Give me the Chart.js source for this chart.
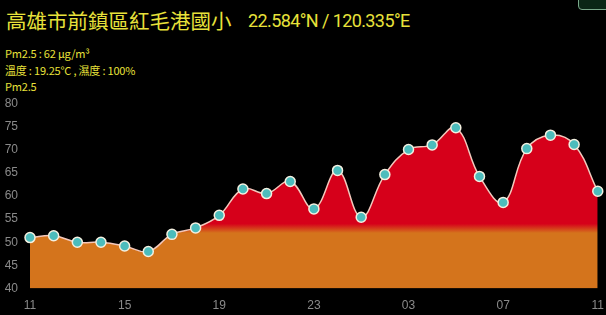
<!DOCTYPE html>
<html>
<head>
<meta charset="utf-8">
<script src="https://cdn.jsdelivr.net/npm/chart.js@4"></script>
<style>
  html, body { margin: 0; padding: 0; background: #000; }
  body { width: 606px; height: 315px; position: relative; overflow: hidden; font-family: "Noto Sans CJK TC", "Noto Sans", sans-serif; color: #e8e23a; }
  .name { position: absolute; left: 6px; top: 5px; font-size: 20.5px; white-space: nowrap; }
  .pos { position: absolute; left: 248px; top: 10px; font-size: 18px; letter-spacing: -0.6px; white-space: nowrap; font-family: Roboto, "Noto Sans", sans-serif; }
  .info { position: absolute; left: 5px; font-size: 11px; letter-spacing: -0.2px; white-space: nowrap; }
  #btn { position: absolute; left: 578px; top: -10px; width: 40px; height: 18px; border: 1px solid #7aa88a; border-radius: 4px; background: #0b2616; }
  #wrap { position: absolute; left: 0; top: 92px; width: 606px; height: 223px; }
</style>
</head>
<body>
<div class="name">高雄市前鎮區紅毛港國小</div>
<div class="pos">22.584°N / 120.335°E</div>
<div class="info" style="top:45px">Pm2.5 : 62 μg/m³</div>
<div class="info" style="top:62px">溫度 : 19.25°C , 濕度 : 100%</div>
<div class="info" style="top:78px">Pm2.5</div>
<div id="btn"></div>
<div id="wrap"><canvas id="pmChart" width="606" height="223"></canvas></div>
<script>
// hourly readings, 11:00 to 11:00 next day
const hours = ['11','12','13','14','15','16','17','18','19','20','21','22','23',
  '00','01','02','03','04','05','06','07','08','09','10','11'];
const pm25 = [51, 51.4, 50, 50, 49.2, 48, 51.7, 53.1, 55.8, 61.5, 60.5, 63.1, 57.2,
  65.5, 55.4, 64.6, 70, 71, 74.7, 64.2, 58.6, 70.2, 73.1, 71.1, 61];
const yTicks = [40, 45, 50, 55, 60, 65, 70, 75, 80];

// red above ~52, orange below
function areaFill(context) {
  const chart = context.chart;
  const { ctx, chartArea, scales } = chart;
  if (!chartArea) return '#d4741c';
  const y = scales.y;
  const top = y.getPixelForValue(80), bot = y.getPixelForValue(40);
  const g = ctx.createLinearGradient(0, top, 0, bot);
  const stop = v => (y.getPixelForValue(v) - top) / (bot - top);
  g.addColorStop(0, '#d6001a');
  g.addColorStop(stop(54), '#d6001a');
  g.addColorStop(stop(52), '#d4741c');
  g.addColorStop(1, '#d4741c');
  return g;
}

new Chart(document.getElementById('pmChart').getContext('2d'), {
  type: 'line',
  data: {
    labels: hours,
    datasets: [{
      label: 'Pm2.5',
      data: pm25,
      borderColor: '#f3c8bc',
      borderWidth: 1.5,
      backgroundColor: areaFill,
      fill: 'start',
      tension: 0.4,
      pointRadius: 5,
      pointBackgroundColor: '#4cbcbc',
      pointBorderColor: '#f4f0e0',
      pointBorderWidth: 1.5
    }]
  },
  options: {
    responsive: false,
    animation: false,
    layout: { padding: { top: 11, right: 8, left: 0, bottom: 0 } },
    plugins: {
      legend: { display: false },
      title: { display: false },
      tooltip: { enabled: false }
    },
    scales: {
      x: {
        grid: { display: false },
        border: { display: false },
        ticks: {
          color: '#8a8a8a',
          font: { size: 12 },
          autoSkip: false,
          maxRotation: 0,
          padding: 2,
          callback: (value, index) => index % 4 === 0 ? hours[index] : ''
        }
      },
      y: {
        min: 40,
        max: 80,
        grid: { display: false },
        border: { display: false },
        afterFit: s => { s.width = 30; },
        afterBuildTicks: s => { s.ticks = yTicks.map(v => ({ value: v })); },
        ticks: { color: '#8a8a8a', font: { size: 12 }, padding: 4 }
      }
    }
  }
});
</script>
</body>
</html>
